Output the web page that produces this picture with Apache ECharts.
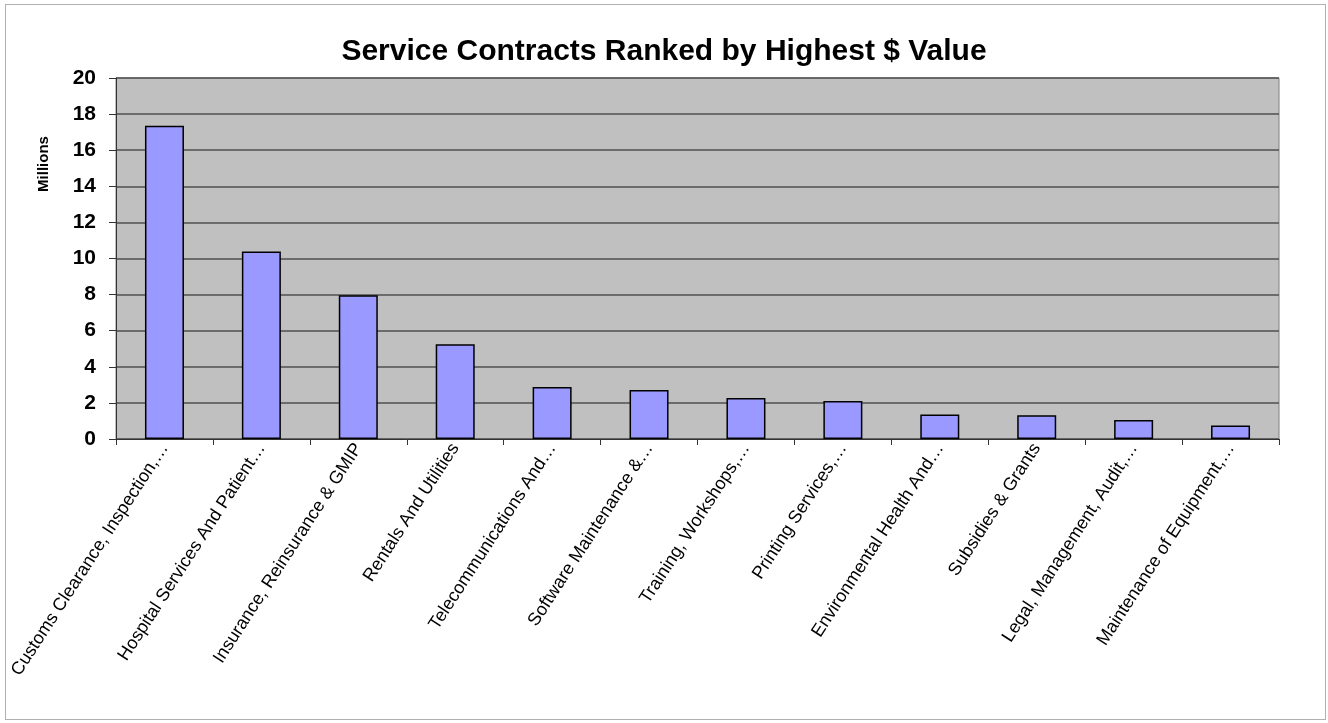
<!DOCTYPE html>
<html>
<head>
<meta charset="utf-8">
<script src="https://cdn.jsdelivr.net/npm/echarts@6/dist/echarts.min.js"></script>
<style>
  html, body { margin: 0; padding: 0; background: #fff; }
  #frame { position: absolute; left: 5px; top: 4px; width: 1321px; height: 716px; border: 1px solid #b0b0b0; box-sizing: border-box; }
  #main { position: absolute; left: 0; top: 0; width: 1328px; height: 723px; }
</style>
</head>
<body>
<div id="frame"></div>
<div id="main"></div>
<script>
var categories = [
  "Customs Clearance, Inspection,\u2026",
  "Hospital Services And Patient\u2026",
  "Insurance, Reinsurance & GMIP",
  "Rentals And Utilities",
  "Telecommunications And\u2026",
  "Software Maintenance &\u2026",
  "Training, Workshops,\u2026",
  "Printing Services,\u2026",
  "Environmental Health And\u2026",
  "Subsidies & Grants",
  "Legal, Management, Audit,\u2026",
  "Maintenance of Equipment,\u2026"
];
var values = [17.36, 10.39, 7.96, 5.25, 2.88, 2.71, 2.27, 2.1, 1.36, 1.31, 1.05, 0.75];

var chartDom = document.getElementById("main");
var myChart = echarts.init(chartDom);
var option;

option = {
  animation: false,
  title: {
    text: "Service Contracts Ranked by Highest $ Value",
    left: "center",
    top: 32,
    textStyle: { fontFamily: "Liberation Sans, Arial", fontSize: 30, fontWeight: "bold", color: "#000" }
  },
  graphic: [
    {
      type: "text",
      x: 44,
      y: 164,
      rotation: Math.PI / 2,
      style: {
        text: "Millions",
        fontFamily: "Liberation Sans, Arial",
        fontSize: 15,
        fontWeight: "bold",
        fill: "#000",
        align: "center",
        verticalAlign: "middle"
      }
    }
  ],
  grid: {
    left: 116,
    right: 49,
    top: 78,
    bottom: 284,
    show: true,
    backgroundColor: "#c0c0c0",
    borderColor: "#808080",
    borderWidth: 1
  },
  xAxis: {
    type: "category",
    data: categories,
    axisLine: { lineStyle: { color: "#333", width: 1 } },
    axisTick: { show: true, length: 6, lineStyle: { color: "#333" } },
    axisLabel: {
      interval: 0,
      rotate: 57,
      margin: 6,
      fontFamily: "Liberation Sans, Arial",
      fontSize: 18,
      color: "#000"
    }
  },
  yAxis: {
    type: "value",
    min: 0,
    max: 20,
    interval: 2,
    axisLine: { show: true, lineStyle: { color: "#333", width: 1 } },
    axisTick: { show: true, length: 7, lineStyle: { color: "#333" } },
    splitLine: { lineStyle: { color: "#505050", width: 1.5 } },
    axisLabel: {
      margin: 20,
      fontFamily: "Liberation Sans, Arial",
      fontSize: 21,
      fontWeight: "bold",
      color: "#000"
    }
  },
  series: [
    {
      type: "bar",
      data: values,
      barWidth: 39,
      itemStyle: { color: "#9999ff", borderColor: "#000", borderWidth: 1.5 }
    }
  ]
};

option && myChart.setOption(option);
</script>
</body>
</html>
